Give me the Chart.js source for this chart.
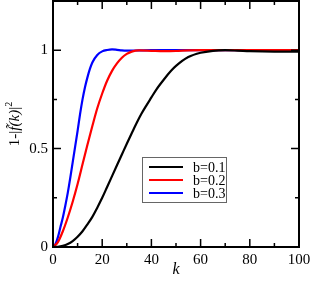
<!DOCTYPE html>
<html>
<head>
<meta charset="utf-8">
<script src="https://cdn.jsdelivr.net/npm/chart.js@4/dist/chart.umd.min.js"></script>
<style>
  html, body { margin: 0; padding: 0; background: #fff; }
  #wrap { width: 314px; height: 284px; }
</style>
</head>
<body>
<div id="wrap"><canvas id="fkChart"></canvas></div>
<script>
// values
const kBlack = [0, 2, 4, 6, 8, 10, 12, 14, 16, 18, 20, 22, 24, 26, 28, 30, 32, 34, 36, 38, 40, 42, 45, 48, 50, 55, 60, 65, 70, 75, 80, 90, 100];
const vBlack = [0, 0.001, 0.006, 0.015, 0.03, 0.052, 0.08, 0.115, 0.153, 0.2, 0.25, 0.305, 0.36, 0.415, 0.47, 0.525, 0.578, 0.63, 0.678, 0.72, 0.76, 0.8, 0.85, 0.895, 0.92, 0.965, 0.987, 0.997, 1.0, 0.998, 0.995, 0.993, 0.993];

const kRed = [0, 2, 4, 6, 8, 10, 12, 14, 16, 18, 20, 22, 24, 26, 28, 30, 32, 35, 40, 45, 50, 55, 60, 70, 80, 90, 100];
const vRed = [0, 0.025, 0.08, 0.15, 0.23, 0.32, 0.42, 0.52, 0.615, 0.705, 0.78, 0.845, 0.895, 0.933, 0.962, 0.981, 0.993, 0.999, 0.997, 0.995, 0.996, 0.999, 1.0, 1.0, 1.0, 1.0, 1.0];

const kBlue = [0, 1, 2, 3, 4, 5, 6, 7, 8, 9, 10, 11, 12, 13, 14, 15, 16, 18, 20, 22, 24, 26, 28, 30, 35, 40, 50, 60, 70, 80, 90, 100];
const vBlue = [0, 0.015, 0.05, 0.1, 0.15, 0.21, 0.275, 0.35, 0.43, 0.51, 0.59, 0.675, 0.75, 0.812, 0.862, 0.905, 0.938, 0.976, 0.994, 1.001, 1.004, 1.002, 0.999, 0.998, 0.999, 1.0, 1.0, 1.0, 1.0, 1.0, 1.0, 1.0];

const seriesLabels = ['b=0.1', 'b=0.2', 'b=0.3'];
const seriesColors = ['#000000', '#ff0000', '#0000ff'];

const xTicks = [0, 20, 40, 60, 80, 100];
const xMinor = [10, 30, 50, 70, 90];
const yTicks = [0, 0.5, 1];
const yMinor = [0.25, 0.75];

const pts = (ks, vs) => ks.map((k, i) => ({ x: k, y: vs[i] }));

const SERIF = '"Liberation Serif", "DejaVu Serif", serif';

// frame, inward ticks, axis titles and legend
const decorPlugin = {
  id: 'decor',
  afterDatasetsDraw(chart) {
    const { ctx, chartArea: a, scales } = chart;
    const xs = scales.x, ys = scales.y;
    ctx.save();
    ctx.strokeStyle = '#000';
    ctx.lineWidth = 1.5;
    ctx.beginPath();
    const tickX = (vals, len) => {
      vals.forEach(v => {
        const px = xs.getPixelForValue(v);
        ctx.moveTo(px, a.bottom); ctx.lineTo(px, a.bottom - len);
        ctx.moveTo(px, a.top); ctx.lineTo(px, a.top + len);
      });
    };
    const tickY = (vals, len) => {
      vals.forEach(v => {
        const py = ys.getPixelForValue(v);
        ctx.moveTo(a.left, py); ctx.lineTo(a.left + len, py);
        ctx.moveTo(a.right, py); ctx.lineTo(a.right - len, py);
      });
    };
    tickX(xTicks, 8); tickX(xMinor, 4);
    tickY(yTicks, 8); tickY(yMinor, 4);
    ctx.stroke();
    ctx.lineWidth = 2;
    ctx.strokeRect(a.left, a.top, a.right - a.left, a.bottom - a.top);

    // x title
    ctx.fillStyle = '#000';
    ctx.font = 'italic 16px ' + SERIF;
    ctx.textAlign = 'center';
    ctx.textBaseline = 'middle';
    ctx.fillText('k', (a.left + a.right) / 2, 270);

    // y title, rotated
    ctx.save();
    ctx.translate(15, (a.top + a.bottom) / 2);
    ctx.rotate(-Math.PI / 2);
    const parts = [
      ['1-|', '15px ' + SERIF, 0],
      ['f\u0303', 'italic 15px ' + SERIF, 0],
      ['(k)', 'italic 15px ' + SERIF, 0],
      ['|', '15px ' + SERIF, 0],
      ['2', '10px ' + SERIF, -6]
    ];
    let total = 0;
    parts.forEach(p => { ctx.font = p[1]; total += ctx.measureText(p[0]).width; });
    let x = -total / 2;
    ctx.textAlign = 'left';
    parts.forEach(p => {
      ctx.font = p[1];
      ctx.fillText(p[0], x, p[2]);
      x += ctx.measureText(p[0]).width;
    });
    ctx.restore();

    // legend box
    ctx.lineWidth = 1;
    ctx.strokeStyle = '#666';
    ctx.fillStyle = '#fff';
    ctx.fillRect(142.5, 157.5, 84, 45);
    ctx.strokeRect(142.5, 157.5, 84, 45);
    ctx.font = '14px ' + SERIF;
    ctx.textAlign = 'left';
    chart.data.datasets.forEach((ds, i) => {
      const y = 167 + i * 13;
      ctx.strokeStyle = ds.borderColor;
      ctx.lineWidth = 2.2;
      ctx.beginPath();
      ctx.moveTo(149, y); ctx.lineTo(183, y);
      ctx.stroke();
      ctx.fillStyle = '#000';
      ctx.fillText(ds.label, 193, y + 1);
    });
    ctx.restore();
  }
};

new Chart(document.getElementById('fkChart'), {
  type: 'line',
  data: {
    datasets: [
      { label: seriesLabels[0], data: pts(kBlack, vBlack) },
      { label: seriesLabels[1], data: pts(kRed, vRed) },
      { label: seriesLabels[2], data: pts(kBlue, vBlue) }
    ].map((d, i) => Object.assign(d, {
      borderColor: seriesColors[i],
      borderWidth: 2.2,
      pointRadius: 0,
      fill: false,
      cubicInterpolationMode: 'monotone'
    }))
  },
  options: {
    responsive: true,
    maintainAspectRatio: false,
    animation: false,
    layout: { padding: { top: 1, right: 15, left: 0, bottom: 0 } },
    plugins: { legend: { display: false }, tooltip: { enabled: false } },
    scales: {
      x: {
        type: 'linear',
        min: 0,
        max: 100,
        afterBuildTicks: s => { s.ticks = xTicks.map(v => ({ value: v })); },
        afterFit: s => { s.height = 37; s.paddingRight = 0; s.paddingLeft = 0; },
        grid: { display: false, drawTicks: false },
        border: { display: false },
        ticks: {
          padding: 4,
          color: '#000',
          maxRotation: 0,
          font: { family: SERIF, size: 15 },
          callback: v => String(v)
        }
      },
      y: {
        min: 0,
        max: 1.25,
        afterBuildTicks: s => { s.ticks = yTicks.map(v => ({ value: v })); },
        afterFit: s => { s.width = 53; s.paddingTop = 0; s.paddingBottom = 0; },
        grid: { display: false, drawTicks: false },
        border: { display: false },
        ticks: {
          padding: 5,
          color: '#000',
          font: { family: SERIF, size: 15 },
          callback: v => String(v)
        }
      }
    }
  },
  plugins: [decorPlugin]
});
</script>
</body>
</html>
